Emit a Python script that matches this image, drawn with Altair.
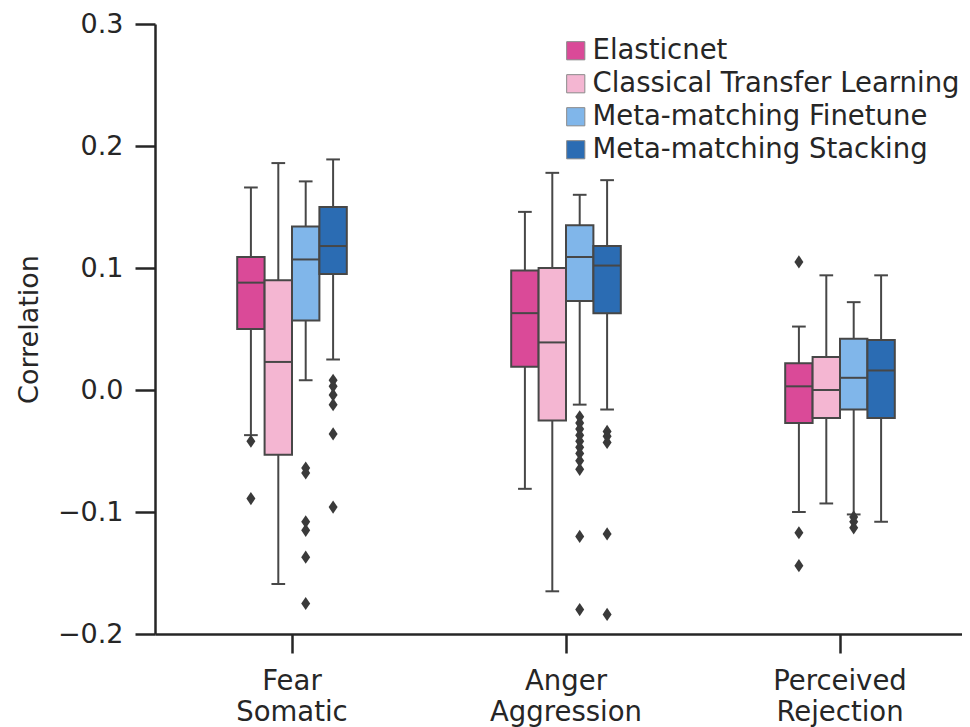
import altair as alt
import pandas as pd

# ---------------- data ----------------
groups = ["Fear Somatic", "Anger Aggression", "Perceived Rejection"]
methods = ["Elasticnet", "Classical Transfer Learning",
           "Meta-matching Finetune", "Meta-matching Stacking"]
colors = ["#da4a98", "#f4b6d2", "#80b6ea", "#2b6cb3"]

# per (group, method), group-major order
box_group = [g for g in groups for _ in methods]
box_method = methods * 3
whisker_low = [-0.037, -0.159, 0.008, 0.025,
               -0.081, -0.165, -0.012, -0.016,
               -0.100, -0.093, -0.102, -0.108]
q1 = [0.050, -0.053, 0.057, 0.095,
      0.019, -0.025, 0.073, 0.063,
      -0.027, -0.023, -0.016, -0.023]
median = [0.088, 0.023, 0.107, 0.118,
          0.063, 0.039, 0.109, 0.102,
          0.003, 0.000, 0.010, 0.016]
q3 = [0.109, 0.090, 0.134, 0.150,
      0.098, 0.100, 0.135, 0.118,
      0.022, 0.027, 0.042, 0.041]
whisker_high = [0.166, 0.186, 0.171, 0.189,
                0.146, 0.178, 0.160, 0.172,
                0.052, 0.094, 0.072, 0.094]

outlier_group = (["Fear Somatic"] * 14 + ["Anger Aggression"] * 16
                 + ["Perceived Rejection"] * 6)
outlier_method = (["Elasticnet"] * 2 + ["Meta-matching Finetune"] * 6
                  + ["Meta-matching Stacking"] * 6
                  + ["Meta-matching Finetune"] * 11
                  + ["Meta-matching Stacking"] * 5
                  + ["Elasticnet"] * 3 + ["Meta-matching Finetune"] * 3)
outlier_value = [-0.042, -0.089,
                 -0.064, -0.068, -0.108, -0.115, -0.137, -0.175,
                 0.008, 0.003, -0.004, -0.012, -0.036, -0.096,
                 -0.022, -0.027, -0.032, -0.037, -0.042, -0.047, -0.052,
                 -0.058, -0.065, -0.120, -0.180,
                 -0.034, -0.038, -0.043, -0.118, -0.184,
                 0.105, -0.117, -0.144,
                 -0.104, -0.108, -0.113]

y_ticks = [-0.2, -0.1, 0.0, 0.1, 0.2, 0.3]

boxes = pd.DataFrame({
    "group": box_group, "method": box_method,
    "lo": whisker_low, "q1": q1, "med": median, "q3": q3, "hi": whisker_high,
})
outliers = pd.DataFrame({
    "group": outlier_group, "method": outlier_method, "value": outlier_value,
})

# ---------------- styling ----------------
FONT = "DejaVu Sans"
INK = "#262626"
EDGE = "#474747"
W, H = 807, 610
STEP = 274
BOXW = STEP / 10

x_enc = alt.X(
    "group:N", sort=groups, title=None,
    scale=alt.Scale(range=[0, 3 * STEP], paddingInner=0, paddingOuter=0),
    axis=alt.Axis(labelExpr="split(datum.label, ' ')", labelFontSize=27.5,
                  labelLineHeight=31, labelFont=FONT, labelColor=INK,
                  labelAngle=0, tickSize=19, tickWidth=2.5, tickColor=INK,
                  domainWidth=2.5, domainColor=INK, labelPadding=14,
                  grid=False),
)
xo_enc = alt.XOffset("method:N", sort=methods,
                     scale=alt.Scale(range=[STEP * 0.3, STEP * 0.7],
                                     paddingInner=0, paddingOuter=0))
y_scale = alt.Scale(domain=[-0.2, 0.3], nice=False, zero=False)
y_axis = alt.Axis(values=y_ticks,
                  labelExpr="replace(format(datum.value, '.1f'), '-', '\u2212')",
                  labelFontSize=27, labelFont=FONT, labelColor=INK,
                  tickSize=20, tickWidth=2.5, tickColor=INK,
                  domainWidth=2.5, domainColor=INK, labelPadding=12,
                  title="Correlation", titleFontSize=27, titleFont=FONT,
                  titleFontWeight="normal", titleColor=INK, titlePadding=14,
                  grid=False)

base = alt.Chart(boxes)

whisk_lo = base.mark_rule(color=EDGE, strokeWidth=2).encode(
    x=x_enc, xOffset=xo_enc,
    y=alt.Y("lo:Q", scale=y_scale, axis=y_axis), y2="q1:Q")
whisk_hi = base.mark_rule(color=EDGE, strokeWidth=2).encode(
    x=x_enc, xOffset=xo_enc, y=alt.Y("q3:Q", scale=y_scale), y2="hi:Q")
cap_lo = base.mark_tick(color=EDGE, thickness=2, size=BOXW / 2, opacity=1).encode(
    x=x_enc, xOffset=xo_enc, y=alt.Y("lo:Q", scale=y_scale))
cap_hi = base.mark_tick(color=EDGE, thickness=2, size=BOXW / 2, opacity=1).encode(
    x=x_enc, xOffset=xo_enc, y=alt.Y("hi:Q", scale=y_scale))
box = base.mark_bar(stroke=EDGE, strokeWidth=2, opacity=1).encode(
    x=x_enc, xOffset=xo_enc,
    y=alt.Y("q1:Q", scale=y_scale), y2="q3:Q",
    color=alt.Color(
        "method:N", sort=methods,
        scale=alt.Scale(domain=methods, range=colors),
        legend=alt.Legend(title=None, orient="none", legendX=407, legendY=13,
                          symbolType="square", symbolSize=330,
                          symbolStrokeColor="#8a8a8a", symbolStrokeWidth=1,
                          symbolOpacity=1,
                          labelFontSize=27.5, labelFont=FONT, labelColor=INK,
                          labelOffset=3, rowPadding=4, padding=0,
                          labelLimit=500)))
med = base.mark_tick(color=EDGE, thickness=2, size=BOXW, opacity=1).encode(
    x=x_enc, xOffset=xo_enc, y=alt.Y("med:Q", scale=y_scale))
pts = alt.Chart(outliers).mark_point(
    shape="M0,-1L0.68,0L0,1L-0.68,0Z", filled=True, size=175,
    color="#3a3a3a", opacity=1, strokeWidth=0).encode(
    x=x_enc, xOffset=xo_enc, y=alt.Y("value:Q", scale=y_scale))

chart = alt.layer(whisk_lo, whisk_hi, cap_lo, cap_hi, box, med, pts).properties(
    width=W, height=H,
    autosize=alt.AutoSizeParams(type="none"),
    padding={"left": 147, "top": 16, "right": 0, "bottom": 100},
    background="white",
).configure_view(stroke=None)

chart.save("out.html", embed_options={"renderer": "svg", "actions": False})
